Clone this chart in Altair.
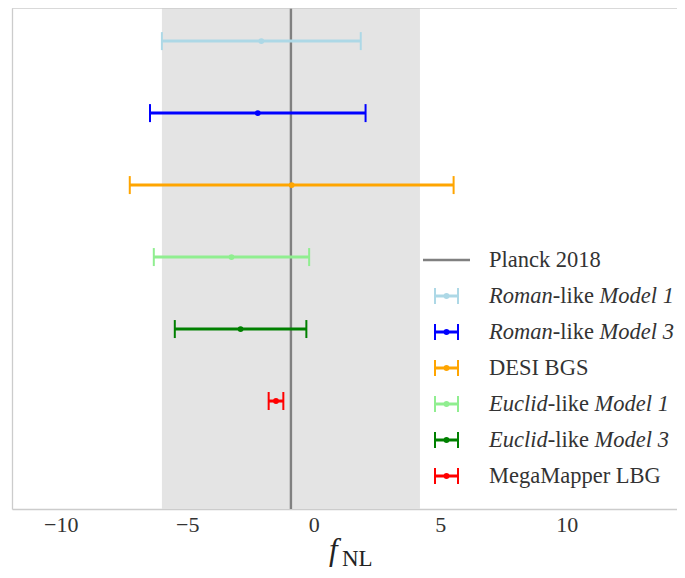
import altair as alt
import pandas as pd

# ---------------- data ----------------
surveys = ["Roman-like Model 1", "Roman-like Model 3", "DESI BGS",
           "Euclid-like Model 1", "Euclid-like Model 3", "MegaMapper LBG"]
centers = [-2.07, -2.21, -0.87, -3.25, -2.89, -1.49]
errors = [3.93, 4.26, 6.40, 3.07, 2.60, 0.29]
rows = [6, 5, 4, 3, 2, 1]
colors = ["#add8e6", "#0000ff", "#ffa500", "#90ee90", "#008000", "#ff0000"]
planck_center = -0.9
planck_sigma = 5.1
planck_label = "Planck 2018"
legend_parts = [
    [("Roman", "italic"), ("-like", "normal"), ("Model 1", "italic")],
    [("Roman", "italic"), ("-like", "normal"), ("Model 3", "italic")],
    [("DESI BGS", "normal")],
    [("Euclid", "italic"), ("-like", "normal"), ("Model 1", "italic")],
    [("Euclid", "italic"), ("-like", "normal"), ("Model 3", "italic")],
    [("MegaMapper LBG", "normal")],
]
x_ticks = [-10, -5, 0, 5, 10]
x_title_main = "f"
x_title_sub = "NL"

# ---------------- layout / style ----------------
W, H = 665, 501
FONT = "Liberation Serif"
FS = 22
LFS = 22.5
TEXT = "#333333"
FRAME = "#cccccc"

# approximate advance widths (em) for Liberation Serif
W_NORMAL = {" ": .25, "-": .333, "l": .278, "i": .278, "k": .5, "e": .444,
            "D": .722, "E": .611, "S": .556, "I": .333, "B": .667, "G": .722}
W_ITALIC = {" ": .25, "R": .611, "o": .5, "m": .722, "a": .5, "n": .5,
            "E": .611, "u": .5, "c": .444, "l": .278, "i": .278, "d": .5,
            "M": .833, "e": .444, "1": .5, "3": .5}


def text_width(s, style, fs):
    table = W_ITALIC if style == "italic" else W_NORMAL
    return sum(table.get(ch, .5) for ch in s) * fs


xs = alt.Scale(domain=[-11.925, 14.36], nice=False, zero=False)
ys = alt.Scale(domain=[-0.5, 6.46], nice=False, zero=False)
x_axis = alt.Axis(values=x_ticks, title=None, ticks=False, grid=False,
                  labelFont=FONT, labelFontSize=FS, labelColor=TEXT,
                  labelPadding=5, labelFlush=False,
                  domainColor=FRAME, domainWidth=1.3)
y_axis = alt.Axis(labels=False, ticks=False, grid=False, title=None,
                  domainColor=FRAME, domainWidth=1.3)

df = pd.DataFrame({"survey": surveys, "center": centers, "err": errors,
                   "row": rows, "color": colors})
df["lo"] = df["center"] - df["err"]
df["hi"] = df["center"] + df["err"]

planck_df = pd.DataFrame({"c": [planck_center], "s": [planck_sigma]})

band = alt.Chart(planck_df).transform_calculate(
    lo="datum.c - datum.s", hi="datum.c + datum.s"
).mark_rect(color="#e4e4e4").encode(
    x=alt.X("lo:Q", scale=xs, axis=x_axis), x2="hi:Q",
    y=alt.value(0), y2=alt.value(H))

planck_line = alt.Chart(planck_df).mark_rule(color="#808080", strokeWidth=2.4).encode(
    x=alt.X("c:Q", scale=xs, axis=x_axis), y=alt.value(0), y2=alt.value(H))

frame_top = alt.Chart(planck_df).mark_rule(color=FRAME, strokeWidth=1.3).encode(
    x=alt.value(0), x2=alt.value(W), y=alt.value(0))

col = alt.Color("color:N", scale=None)

bars = alt.Chart(df).mark_rule(strokeWidth=3).encode(
    x=alt.X("lo:Q", scale=xs, axis=x_axis), x2="hi:Q",
    y=alt.Y("row:Q", scale=ys, axis=y_axis), color=col)

caps = alt.Chart(df).transform_fold(["lo", "hi"], as_=["end", "xv"]).mark_tick(
    orient="vertical", thickness=2, size=18, opacity=1).encode(
    x=alt.X("xv:Q", scale=xs, axis=x_axis),
    y=alt.Y("row:Q", scale=ys, axis=y_axis), color=col)

points = alt.Chart(df).mark_circle(size=34, opacity=1).encode(
    x=alt.X("center:Q", scale=xs, axis=x_axis),
    y=alt.Y("row:Q", scale=ys, axis=y_axis), color=col)

# ---------------- manual legend ----------------
LEG_Y0, LEG_DY = 252, 36
SYM_A, SYM_B = 423, 446
TXT_X = 477

leg_line = alt.Chart(planck_df).transform_calculate(
    py=f"{LEG_Y0}", xa="411", xb="458"
).mark_rule(color="#808080", strokeWidth=2.4).encode(
    x=alt.X("xa:Q", scale=None, axis=None), x2="xb:Q",
    y=alt.Y("py:Q", scale=None, axis=None))

leg_sym = pd.DataFrame({"i": list(range(1, len(colors) + 1)), "color": colors})
leg_base = alt.Chart(leg_sym).transform_calculate(
    py=f"{LEG_Y0} + {LEG_DY} * datum.i", xa=f"{SYM_A}", xb=f"{SYM_B}",
    xm=f"{(SYM_A + SYM_B) / 2}")
leg_bar = leg_base.mark_rule(strokeWidth=3).encode(
    x=alt.X("xa:Q", scale=None, axis=None), x2="xb:Q",
    y=alt.Y("py:Q", scale=None, axis=None), color=col)
leg_cap = leg_base.transform_fold(["xa", "xb"], as_=["end", "xv"]).mark_tick(
    orient="vertical", thickness=2, size=16, opacity=1).encode(
    x=alt.X("xv:Q", scale=None, axis=None),
    y=alt.Y("py:Q", scale=None, axis=None), color=col)
leg_pt = leg_base.mark_circle(size=34, opacity=1).encode(
    x=alt.X("xm:Q", scale=None, axis=None),
    y=alt.Y("py:Q", scale=None, axis=None), color=col)

pieces = [{"text": planck_label, "px": TXT_X, "py": LEG_Y0, "style": "normal"}]
for i, parts in enumerate(legend_parts, start=1):
    x = TXT_X
    for k, (txt, style) in enumerate(parts):
        if k == 2:
            x += text_width(" ", "normal", LFS)
        pieces.append({"text": txt, "px": x, "py": LEG_Y0 + LEG_DY * i, "style": style})
        x += text_width(txt, style, LFS)
pieces_df = pd.DataFrame(pieces)


def text_layer(style):
    return alt.Chart(pieces_df[pieces_df["style"] == style]).mark_text(
        align="left", baseline="middle", font=FONT, fontSize=LFS,
        fontStyle=style, color=TEXT).encode(
        x=alt.X("px:Q", scale=None, axis=None),
        y=alt.Y("py:Q", scale=None, axis=None), text="text:N")


leg_text_n = text_layer("normal")
leg_text_i = text_layer("italic")

# ---------------- x-axis title  f_NL ----------------
title_df = pd.DataFrame({"t": [x_title_main, x_title_sub],
                         "px": [317, 330], "py": [H + 51, H + 57]})
title_f = alt.Chart(title_df.iloc[[0]]).mark_text(
    align="left", baseline="alphabetic", font=FONT, fontSize=31,
    fontStyle="italic", color="#222222").encode(
    x=alt.X("px:Q", scale=None, axis=None),
    y=alt.Y("py:Q", scale=None, axis=None), text="t:N")
title_nl = alt.Chart(title_df.iloc[[1]]).mark_text(
    align="left", baseline="alphabetic", font=FONT, fontSize=23,
    color="#222222").encode(
    x=alt.X("px:Q", scale=None, axis=None),
    y=alt.Y("py:Q", scale=None, axis=None), text="t:N")

chart = alt.layer(
    band, planck_line, frame_top, bars, caps, points,
    leg_line, leg_bar, leg_cap, leg_pt, leg_text_n, leg_text_i,
    title_f, title_nl,
).properties(
    width=W, height=H,
    padding={"left": 4, "top": 0, "right": 0, "bottom": 61},
    autosize=alt.AutoSizeParams(type="none"),
).configure_view(stroke=None)

chart.save("out.html", embed_options={"renderer": "svg", "actions": False})
